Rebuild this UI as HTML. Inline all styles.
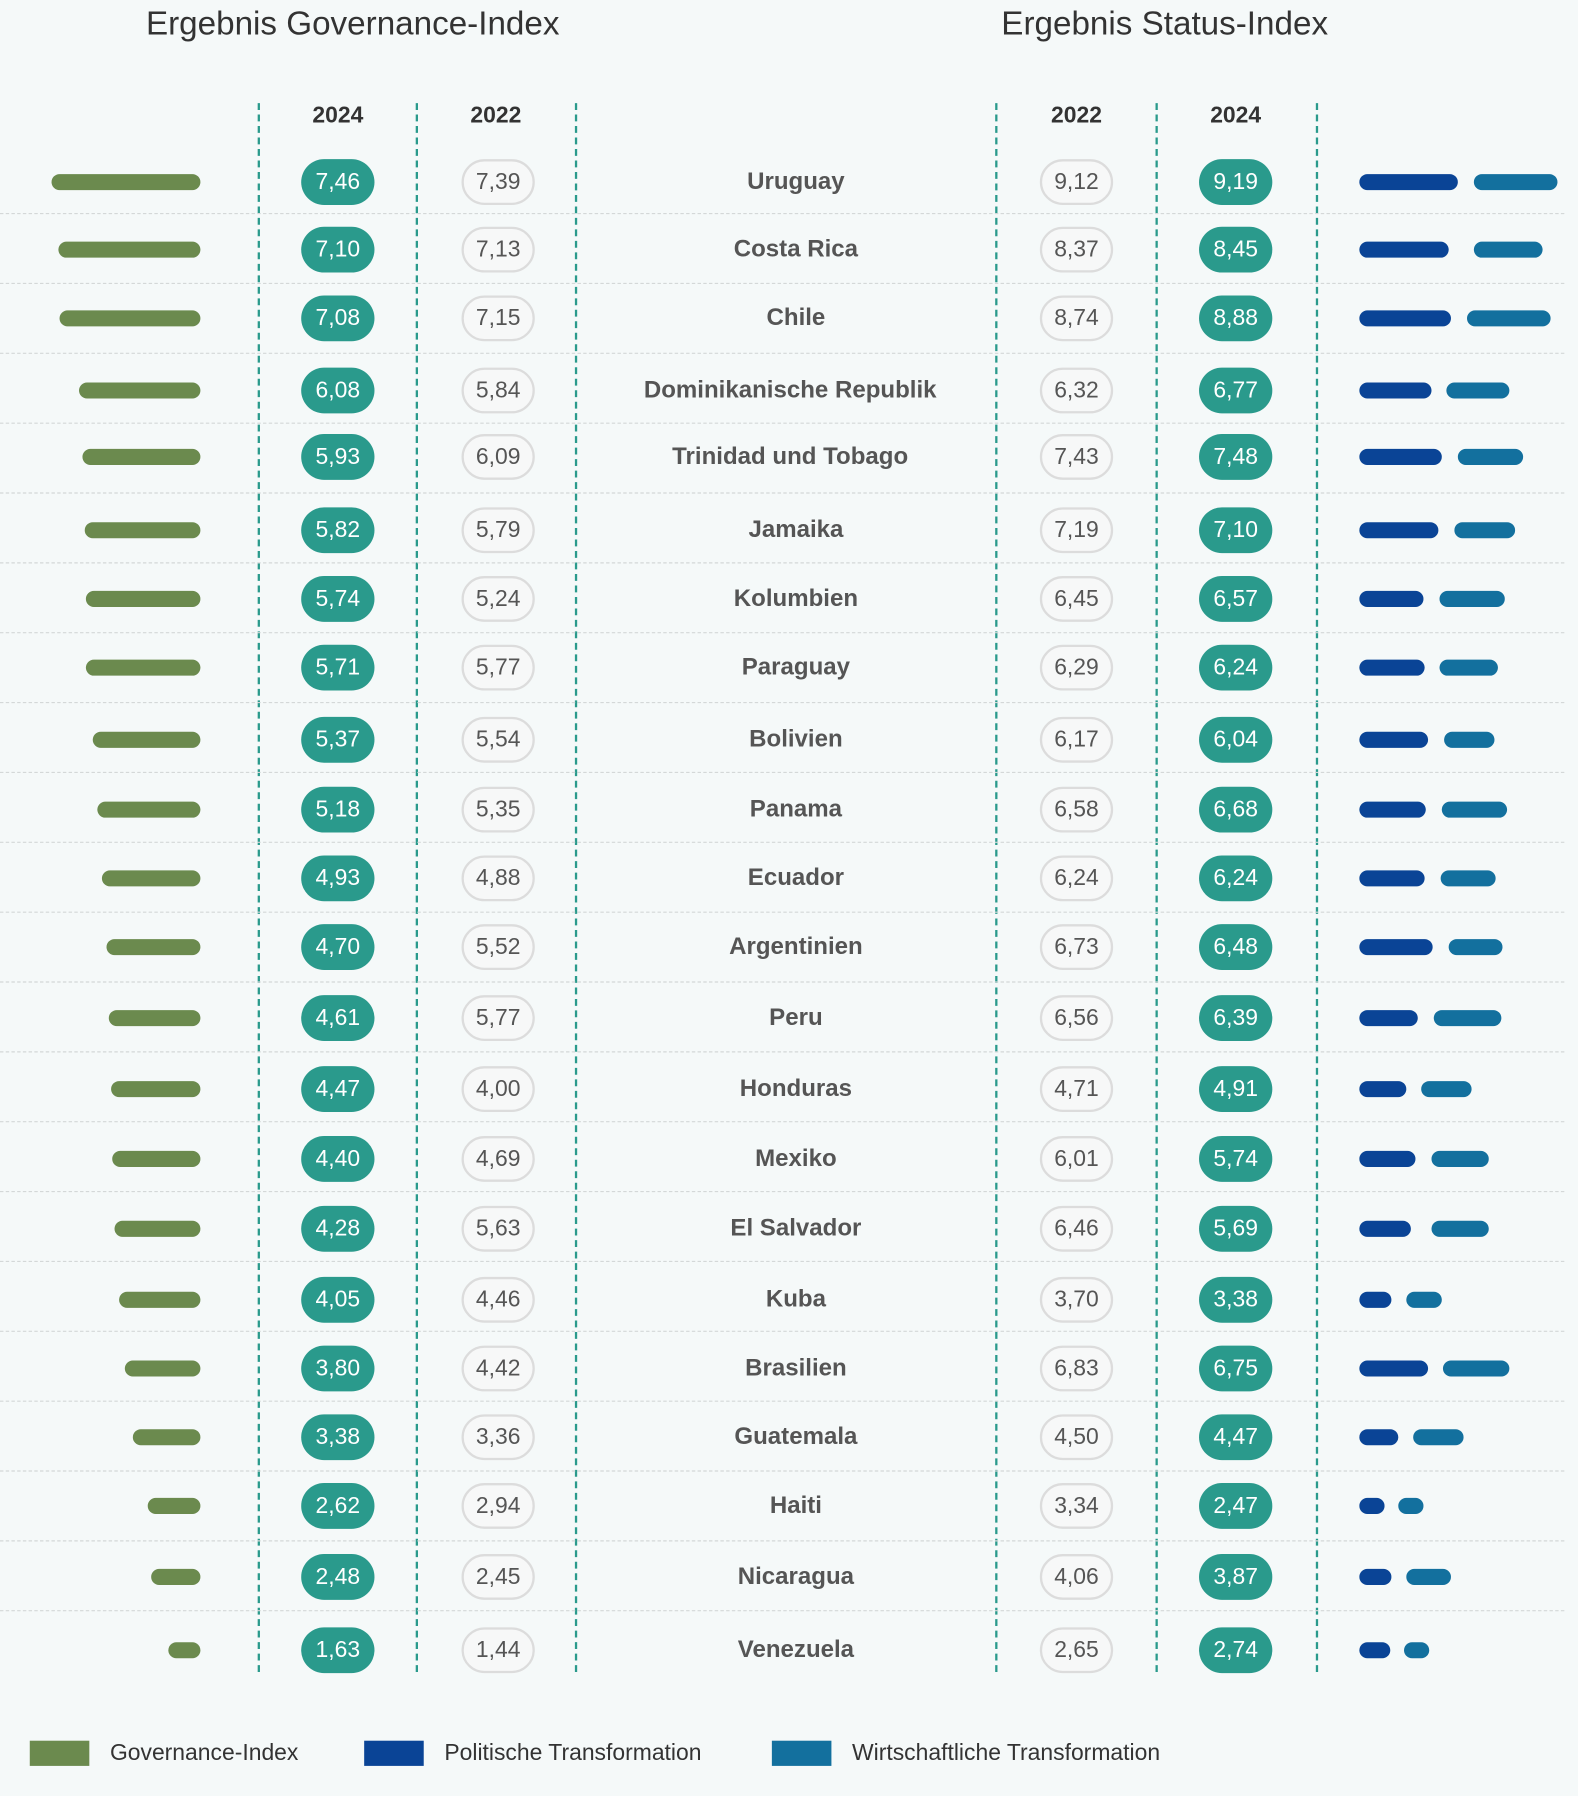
<!DOCTYPE html>
<html><head><meta charset="utf-8"><style>
html,body{margin:0;padding:0;background:#f5f9f9;}
body{width:1578px;height:1796px;overflow:hidden;position:relative;}
#w{position:absolute;left:0;top:0;width:1378px;height:1568px;transform:scale(1.1452);transform-origin:0 0;font-family:"Liberation Sans",sans-serif;}
.t{position:absolute;top:5px;font-size:29px;color:#333;white-space:nowrap;transform:translateX(-50%)}
.h{position:absolute;top:90px;font-size:20px;font-weight:bold;color:#333;transform:translateX(-50%)}
.v{position:absolute;top:90px;height:1370px;border-left:2px dashed #2a9a8c;width:0}
.s{position:absolute;left:0;width:1366px;border-top:1.5px dashed #d4d8d8;height:0}
.r{position:absolute;left:0;width:1378px;height:0}
.r>*{position:absolute;display:block}
.g{right:1203px;top:-7px;height:14px;border-radius:7px;background:#6b8a4e}
.p{top:-20px;width:64px;height:40px;line-height:41px;border-radius:20px;text-align:center;font-size:20px;font-weight:normal;box-sizing:border-box}
.f{background:#2a9a8c;color:#fff}
.o{background:#f7f8f8;border:2px solid #dcdcdc;color:#555;line-height:37px}
.a{left:263px}.b{left:403px}.d{left:908px}.e{left:1047px}
.c{left:545px;width:300px;text-align:center;top:-12px;font-size:21px;font-weight:bold;color:#555;white-space:nowrap}
.pb{left:1187px;top:-7px;height:14px;border-radius:7px;background:#0a4496}
.eb{top:-7px;height:14px;border-radius:7px;background:#13709e}
.lg{position:absolute;top:1520px;width:52px;height:22px}
.lt{position:absolute;top:1520px;font-size:20px;color:#333}
</style></head><body><div id="w">
<div class="t" style="left:308px">Ergebnis Governance-Index</div>
<div class="t" style="left:1017px">Ergebnis Status-Index</div>
<div class="h" style="left:295px">2024</div><div class="h" style="left:433px">2022</div>
<div class="h" style="left:940px">2022</div><div class="h" style="left:1079px">2024</div>
<div class="v" style="left:225px"></div><div class="v" style="left:363px"></div><div class="v" style="left:502px"></div>
<div class="v" style="left:869px"></div><div class="v" style="left:1009px"></div><div class="v" style="left:1149px"></div>
<div class="s" style="top:186px"></div><div class="s" style="top:247px"></div><div class="s" style="top:308px"></div><div class="s" style="top:369px"></div><div class="s" style="top:430px"></div><div class="s" style="top:491px"></div><div class="s" style="top:552px"></div><div class="s" style="top:613px"></div><div class="s" style="top:674px"></div><div class="s" style="top:735px"></div><div class="s" style="top:796px"></div><div class="s" style="top:857px"></div><div class="s" style="top:918px"></div><div class="s" style="top:979px"></div><div class="s" style="top:1040px"></div><div class="s" style="top:1101px"></div><div class="s" style="top:1162px"></div><div class="s" style="top:1223px"></div><div class="s" style="top:1284px"></div><div class="s" style="top:1345px"></div><div class="s" style="top:1406px"></div>

<div class="r" style="top:159px"><i class="g" style="width:130px"></i><b class="p f a">7,46</b><b class="p o b">7,39</b><span class="c">Uruguay</span><b class="p o d">9,12</b><b class="p f e">9,19</b><i class="pb" style="width:86px"></i><i class="eb" style="left:1287px;width:73px"></i></div>
<div class="r" style="top:218px"><i class="g" style="width:124px"></i><b class="p f a">7,10</b><b class="p o b">7,13</b><span class="c">Costa Rica</span><b class="p o d">8,37</b><b class="p f e">8,45</b><i class="pb" style="width:78px"></i><i class="eb" style="left:1287px;width:60px"></i></div>
<div class="r" style="top:278px"><i class="g" style="width:123px"></i><b class="p f a">7,08</b><b class="p o b">7,15</b><span class="c">Chile</span><b class="p o d">8,74</b><b class="p f e">8,88</b><i class="pb" style="width:80px"></i><i class="eb" style="left:1281px;width:73px"></i></div>
<div class="r" style="top:341px"><i class="g" style="width:106px"></i><b class="p f a">6,08</b><b class="p o b">5,84</b><span class="c" style="left:540px">Dominikanische Republik</span><b class="p o d">6,32</b><b class="p f e">6,77</b><i class="pb" style="width:63px"></i><i class="eb" style="left:1263px;width:55px"></i></div>
<div class="r" style="top:399px"><i class="g" style="width:103px"></i><b class="p f a">5,93</b><b class="p o b">6,09</b><span class="c" style="left:540px">Trinidad und Tobago</span><b class="p o d">7,43</b><b class="p f e">7,48</b><i class="pb" style="width:72px"></i><i class="eb" style="left:1273px;width:57px"></i></div>
<div class="r" style="top:463px"><i class="g" style="width:101px"></i><b class="p f a">5,82</b><b class="p o b">5,79</b><span class="c">Jamaika</span><b class="p o d">7,19</b><b class="p f e">7,10</b><i class="pb" style="width:69px"></i><i class="eb" style="left:1270px;width:53px"></i></div>
<div class="r" style="top:523px"><i class="g" style="width:100px"></i><b class="p f a">5,74</b><b class="p o b">5,24</b><span class="c">Kolumbien</span><b class="p o d">6,45</b><b class="p f e">6,57</b><i class="pb" style="width:56px"></i><i class="eb" style="left:1257px;width:57px"></i></div>
<div class="r" style="top:583px"><i class="g" style="width:100px"></i><b class="p f a">5,71</b><b class="p o b">5,77</b><span class="c">Paraguay</span><b class="p o d">6,29</b><b class="p f e">6,24</b><i class="pb" style="width:57px"></i><i class="eb" style="left:1257px;width:51px"></i></div>
<div class="r" style="top:646px"><i class="g" style="width:94px"></i><b class="p f a">5,37</b><b class="p o b">5,54</b><span class="c">Bolivien</span><b class="p o d">6,17</b><b class="p f e">6,04</b><i class="pb" style="width:60px"></i><i class="eb" style="left:1261px;width:44px"></i></div>
<div class="r" style="top:707px"><i class="g" style="width:90px"></i><b class="p f a">5,18</b><b class="p o b">5,35</b><span class="c">Panama</span><b class="p o d">6,58</b><b class="p f e">6,68</b><i class="pb" style="width:58px"></i><i class="eb" style="left:1259px;width:57px"></i></div>
<div class="r" style="top:767px"><i class="g" style="width:86px"></i><b class="p f a">4,93</b><b class="p o b">4,88</b><span class="c">Ecuador</span><b class="p o d">6,24</b><b class="p f e">6,24</b><i class="pb" style="width:57px"></i><i class="eb" style="left:1258px;width:48px"></i></div>
<div class="r" style="top:827px"><i class="g" style="width:82px"></i><b class="p f a">4,70</b><b class="p o b">5,52</b><span class="c">Argentinien</span><b class="p o d">6,73</b><b class="p f e">6,48</b><i class="pb" style="width:64px"></i><i class="eb" style="left:1265px;width:47px"></i></div>
<div class="r" style="top:889px"><i class="g" style="width:80px"></i><b class="p f a">4,61</b><b class="p o b">5,77</b><span class="c">Peru</span><b class="p o d">6,56</b><b class="p f e">6,39</b><i class="pb" style="width:51px"></i><i class="eb" style="left:1252px;width:59px"></i></div>
<div class="r" style="top:951px"><i class="g" style="width:78px"></i><b class="p f a">4,47</b><b class="p o b">4,00</b><span class="c">Honduras</span><b class="p o d">4,71</b><b class="p f e">4,91</b><i class="pb" style="width:41px"></i><i class="eb" style="left:1241px;width:44px"></i></div>
<div class="r" style="top:1012px"><i class="g" style="width:77px"></i><b class="p f a">4,40</b><b class="p o b">4,69</b><span class="c">Mexiko</span><b class="p o d">6,01</b><b class="p f e">5,74</b><i class="pb" style="width:49px"></i><i class="eb" style="left:1250px;width:50px"></i></div>
<div class="r" style="top:1073px"><i class="g" style="width:75px"></i><b class="p f a">4,28</b><b class="p o b">5,63</b><span class="c">El Salvador</span><b class="p o d">6,46</b><b class="p f e">5,69</b><i class="pb" style="width:45px"></i><i class="eb" style="left:1250px;width:50px"></i></div>
<div class="r" style="top:1135px"><i class="g" style="width:71px"></i><b class="p f a">4,05</b><b class="p o b">4,46</b><span class="c">Kuba</span><b class="p o d">3,70</b><b class="p f e">3,38</b><i class="pb" style="width:28px"></i><i class="eb" style="left:1228px;width:31px"></i></div>
<div class="r" style="top:1195px"><i class="g" style="width:66px"></i><b class="p f a">3,80</b><b class="p o b">4,42</b><span class="c">Brasilien</span><b class="p o d">6,83</b><b class="p f e">6,75</b><i class="pb" style="width:60px"></i><i class="eb" style="left:1260px;width:58px"></i></div>
<div class="r" style="top:1255px"><i class="g" style="width:59px"></i><b class="p f a">3,38</b><b class="p o b">3,36</b><span class="c">Guatemala</span><b class="p o d">4,50</b><b class="p f e">4,47</b><i class="pb" style="width:34px"></i><i class="eb" style="left:1234px;width:44px"></i></div>
<div class="r" style="top:1315px"><i class="g" style="width:46px"></i><b class="p f a">2,62</b><b class="p o b">2,94</b><span class="c">Haiti</span><b class="p o d">3,34</b><b class="p f e">2,47</b><i class="pb" style="width:22px"></i><i class="eb" style="left:1221px;width:22px"></i></div>
<div class="r" style="top:1377px"><i class="g" style="width:43px"></i><b class="p f a">2,48</b><b class="p o b">2,45</b><span class="c">Nicaragua</span><b class="p o d">4,06</b><b class="p f e">3,87</b><i class="pb" style="width:28px"></i><i class="eb" style="left:1228px;width:39px"></i></div>
<div class="r" style="top:1441px"><i class="g" style="width:28px"></i><b class="p f a">1,63</b><b class="p o b">1,44</b><span class="c">Venezuela</span><b class="p o d">2,65</b><b class="p f e">2,74</b><i class="pb" style="width:27px"></i><i class="eb" style="left:1226px;width:22px"></i></div>

<div class="lg" style="left:26px;background:#6b8a4e"></div><div class="lt" style="left:96px">Governance-Index</div>
<div class="lg" style="left:318px;background:#0a4496"></div><div class="lt" style="left:388px">Politische Transformation</div>
<div class="lg" style="left:674px;background:#13709e"></div><div class="lt" style="left:744px">Wirtschaftliche Transformation</div>
</div></body></html>
